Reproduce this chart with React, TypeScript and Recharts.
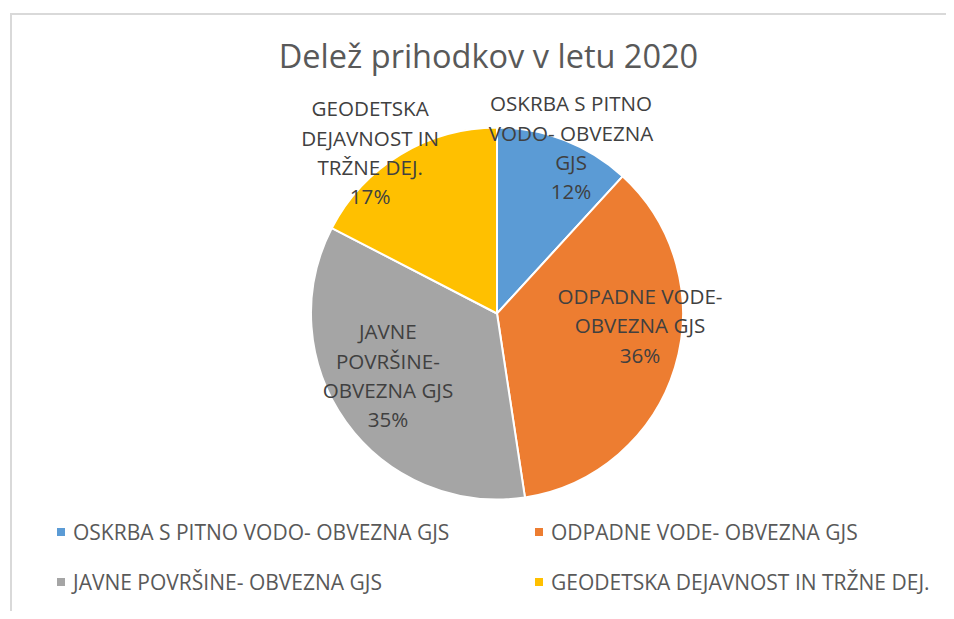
import React from 'react';
import { PieChart, Pie, Cell, Legend } from 'recharts';

const categories = [
  'OSKRBA S PITNO VODO- OBVEZNA GJS',
  'ODPADNE VODE- OBVEZNA GJS',
  'JAVNE POVRŠINE- OBVEZNA GJS',
  'GEODETSKA DEJAVNOST IN TRŽNE DEJ.',
];
const shares = [11.8, 35.8, 35.0, 17.4];
const labelLines = [
  ['OSKRBA S PITNO', 'VODO- OBVEZNA', 'GJS'],
  ['ODPADNE VODE-', 'OBVEZNA GJS'],
  ['JAVNE', 'POVRŠINE-', 'OBVEZNA GJS'],
  ['GEODETSKA', 'DEJAVNOST IN', 'TRŽNE DEJ.'],
];
const title = 'Delež prihodkov v letu 2020';

const COLORS = ['#5B9BD5', '#ED7D31', '#A5A5A5', '#FFC000'];
const FONT = '"Open Sans", "Noto Sans", sans-serif';
const LABEL_FS = 20.6;
const LEGEND_FS = 21;
const LINE_H = 29.3;
// label placement: radius factor and angle nudge (deg) relative to slice mid-angle
const LABEL_PLACE = [
  { rf: 0.975, da: -2.86 },
  { rf: 0.772, da: 11.9 },
  { rf: 0.676, da: -5.8 },
  { rf: 1.1, da: 7.0 },
];

const data = categories.map((name, i) => ({ name, value: shares[i] }));
const RAD = Math.PI / 180;

const renderLabel = (props: any) => {
  const { cx, cy, midAngle, outerRadius, index, percent } = props;
  const p = LABEL_PLACE[index];
  const a = (midAngle + p.da) * RAD;
  const r = outerRadius * p.rf;
  const x = cx + r * Math.cos(a);
  const y = cy - r * Math.sin(a);
  const lines = [...labelLines[index], `${Math.round(percent * 100)}%`];
  const y0 = y - ((lines.length - 1) / 2) * LINE_H;
  return (
    <g key={`lbl-${index}`}>
      {lines.map((t, k) => (
        <text
          key={k}
          x={x}
          y={y0 + k * LINE_H + LABEL_FS * 0.357}
          textAnchor="middle"
          fontFamily={FONT}
          fontSize={LABEL_FS}
          fill="#404040"
        >
          {t}
        </text>
      ))}
    </g>
  );
};

const renderLegend = () => {
  return (
    <div
      style={{
        display: 'grid',
        gridTemplateColumns: '478px 420px',
        fontFamily: FONT,
        fontSize: LEGEND_FS,
        color: '#595959',
      }}
    >
      {categories.map((name, i) => (
        <div key={name} style={{ display: 'flex', alignItems: 'center', height: 50 }}>
          <span
            style={{
              display: 'inline-block',
              width: 8,
              height: 8,
              background: COLORS[i],
              marginRight: 8,
              flex: 'none',
            }}
          />
          <span style={{ whiteSpace: 'nowrap' }}>{name}</span>
        </div>
      ))}
    </div>
  );
};

export default function App() {
  return (
    <div style={{ position: 'relative', width: 946, height: 603, overflow: 'hidden', background: '#fff' }}>
      <div
        style={{
          position: 'absolute',
          left: 2,
          top: 5,
          width: 1000,
          height: 700,
          border: '2px solid #d9d9d9',
          boxSizing: 'border-box',
        }}
      />
      <div style={{ position: 'absolute', left: 0, top: 0 }}>
        <PieChart width={946} height={603} margin={{ top: 0, right: 0, bottom: 0, left: 0 }}>
          <text x={480.5} y={60} textAnchor="middle" fontFamily={FONT} fontSize={32.5} fill="#595959">
            {title}
          </text>
          <Pie
            data={data}
            dataKey="value"
            nameKey="name"
            cx={489}
            cy={305.5}
            outerRadius={186}
            startAngle={90}
            endAngle={-270}
            stroke="#ffffff"
            strokeWidth={2}
            label={renderLabel}
            labelLine={false}
            isAnimationActive={false}
          >
            {data.map((d, i) => (
              <Cell key={d.name} fill={COLORS[i]} />
            ))}
          </Pie>
          <Legend
            content={renderLegend}
            wrapperStyle={{ position: 'absolute', left: 49, top: 499, width: 900, height: 100 }}
          />
        </PieChart>
      </div>
    </div>
  );
}
